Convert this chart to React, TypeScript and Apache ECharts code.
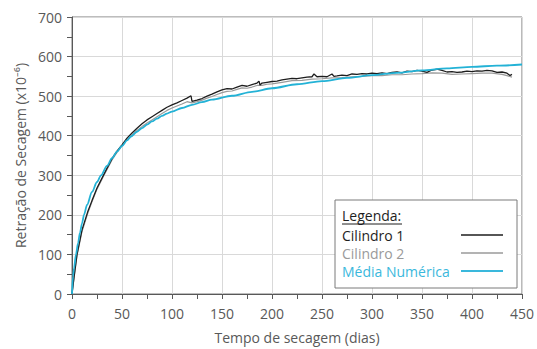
import React, { useEffect, useRef } from "react";
import * as echarts from "echarts";

const cyanDays = [0, 1, 2, 4, 6, 8, 10, 12, 15, 20, 25, 29, 35, 40, 45, 50, 55, 59, 65, 70, 75, 80, 85, 90, 95, 100, 110, 120, 130, 140, 160, 180, 200, 225, 250, 275, 300, 325, 350, 375, 400, 425, 450];
const cyanVals = [0, 45, 65, 100, 128, 155, 178, 200, 225, 258, 283, 300, 324, 343, 360, 374, 388, 398, 410, 419, 428, 436, 443, 450, 456, 461, 470, 478, 485, 491, 501, 511, 520, 530, 538, 546, 553, 559, 565, 570, 574, 577, 580];

const c1Days = [0, 2, 5, 10, 16, 20, 25, 32, 40, 45, 50, 55, 60, 65, 70, 75, 80, 85, 90, 95, 100, 105, 110, 115, 119, 120, 125, 130, 135, 140, 145, 150, 155, 160, 165, 170, 175, 180, 185, 187, 188, 190, 195, 200, 205, 210, 215, 220, 225, 230, 235, 240, 242, 245, 250, 255, 260, 262, 265, 270, 275, 280, 285, 290, 295, 300, 305, 310, 315, 320, 325, 330, 335, 340, 345, 350, 355, 360, 365, 370, 375, 380, 385, 390, 395, 400, 405, 410, 415, 420, 425, 430, 435, 438, 440];
const c1Vals = [0, 42, 100, 162, 210, 236, 268, 303, 342, 361, 377, 394, 407, 419, 430, 440, 448, 456, 464, 472, 478, 483, 489, 495, 501, 487, 490, 494, 500, 505, 511, 516, 519, 518, 523, 527, 525, 529, 533, 538, 528, 533, 535, 537, 538, 541, 543, 545, 544, 546, 548, 549, 556, 549, 550, 549, 556, 550, 551, 553, 552, 556, 555, 557, 556, 558, 557, 559, 557, 560, 561, 559, 563, 562, 565, 563, 560, 566, 568, 565, 561, 562, 560, 561, 563, 562, 564, 563, 565, 564, 560, 561, 558, 552, 555];

const c2Days = [0, 2, 5, 10, 16, 20, 25, 32, 40, 45, 50, 55, 60, 65, 70, 75, 80, 85, 90, 95, 100, 105, 110, 115, 120, 125, 130, 135, 140, 145, 150, 155, 160, 165, 170, 175, 180, 185, 190, 195, 200, 210, 220, 230, 240, 250, 260, 270, 280, 290, 300, 310, 320, 330, 340, 350, 360, 370, 380, 390, 400, 410, 420, 430, 435, 440];
const c2Vals = [0, 40, 97, 158, 206, 233, 265, 300, 339, 358, 374, 390, 402, 413, 423, 432, 440, 448, 456, 464, 470, 475, 480, 486, 483, 486, 490, 495, 499, 504, 509, 512, 513, 517, 521, 520, 523, 527, 527, 530, 531, 535, 539, 540, 543, 544, 546, 547, 549, 550, 552, 552, 554, 554, 556, 557, 559, 558, 555, 556, 557, 558, 558, 555, 552, 548];

const xTicks = [0, 50, 100, 150, 200, 250, 300, 350, 400, 450];

const zip = (d: number[], v: number[]) => d.map((x, i) => [x, v[i]]);

export default function App() {
  const ref = useRef<HTMLDivElement>(null);
  useEffect(() => {
    if (!ref.current) return;
    const chart = echarts.init(ref.current, null, { renderer: "svg" });
    const font = "Open Sans";
    const lx = 335, ly = 200;
    chart.setOption({
      animation: false,
      grid: { left: 72, right: 13, top: 17, bottom: 52, show: true, borderColor: "#7a7a7a", borderWidth: 1 },
      xAxis: {
        type: "value",
        min: 0,
        max: 450,
        interval: 50,
        name: "Tempo de secagem (dias)",
        nameLocation: "middle",
        nameGap: 36,
        nameTextStyle: { fontFamily: font, fontSize: 14, color: "#595959" },
        axisLine: { show: true, lineStyle: { color: "#595959", width: 1 } },
        axisTick: { show: true, length: 5, lineStyle: { color: "#595959" } },
        minorTick: { show: true, splitNumber: 2, length: 5, lineStyle: { color: "#595959" } },
        splitLine: { show: true, lineStyle: { color: "#d9d9d9" } },
        axisLabel: { fontFamily: font, fontSize: 14, color: "#595959", margin: 12, formatter: (v: number) => (xTicks.includes(v) ? String(v) : "") },
      },
      yAxis: {
        type: "value",
        min: 0,
        max: 700,
        interval: 100,
        name: "Retração de Secagem (x10⁻⁶)",
        nameLocation: "middle",
        nameGap: 45,
        nameTextStyle: { fontFamily: font, fontSize: 14, color: "#595959" },
        axisLine: { show: true, lineStyle: { color: "#595959", width: 1 } },
        axisTick: { show: true, length: 5, lineStyle: { color: "#595959" } },
        minorTick: { show: true, splitNumber: 2, length: 5, lineStyle: { color: "#595959" } },
        splitLine: { show: true, lineStyle: { color: "#d9d9d9" } },
        axisLabel: { fontFamily: font, fontSize: 14, color: "#595959", margin: 10 },
      },
      series: [
        { name: "Cilindro 2", type: "line", data: zip(c2Days, c2Vals), showSymbol: false, lineStyle: { color: "#9a9a9a", width: 1.2 }, z: 2 },
        { name: "Cilindro 1", type: "line", data: zip(c1Days, c1Vals), showSymbol: false, lineStyle: { color: "#1e1e1e", width: 1.3 }, z: 3 },
        { name: "Média Numérica", type: "line", data: zip(cyanDays, cyanVals), showSymbol: false, smooth: 0.3, smoothMonotone: "x", lineStyle: { color: "#23b2d6", width: 1.8 }, z: 4 },
      ],
      graphic: [
        { type: "rect", shape: { x: lx, y: ly, width: 182, height: 88 }, style: { fill: "#fff", stroke: "#7a7a7a", lineWidth: 1 }, z: 10 },
        { type: "text", x: lx + 7, y: ly + 15, style: { text: "Legenda:", font: `14px "${font}"`, fill: "#1e1e1e", verticalAlign: "middle" }, z: 11 },
        { type: "line", shape: { x1: lx + 7, y1: ly + 24, x2: lx + 67, y2: ly + 24 }, style: { stroke: "#1e1e1e", lineWidth: 1 }, z: 11 },
        { type: "text", x: lx + 7, y: ly + 35, style: { text: "Cilindro 1", font: `14px "${font}"`, fill: "#1e1e1e", verticalAlign: "middle" }, z: 11 },
        { type: "text", x: lx + 7, y: ly + 53, style: { text: "Cilindro 2", font: `14px "${font}"`, fill: "#9a9a9a", verticalAlign: "middle" }, z: 11 },
        { type: "text", x: lx + 7, y: ly + 71, style: { text: "Média Numérica", font: `14px "${font}"`, fill: "#3ab8dc", verticalAlign: "middle" }, z: 11 },
        { type: "line", shape: { x1: lx + 126, y1: ly + 35, x2: lx + 168, y2: ly + 35 }, style: { stroke: "#1e1e1e", lineWidth: 1.5 }, z: 11 },
        { type: "line", shape: { x1: lx + 126, y1: ly + 53, x2: lx + 168, y2: ly + 53 }, style: { stroke: "#9a9a9a", lineWidth: 1.3 }, z: 11 },
        { type: "line", shape: { x1: lx + 126, y1: ly + 71, x2: lx + 168, y2: ly + 71 }, style: { stroke: "#3ab8dc", lineWidth: 1.8 }, z: 11 },
      ],
    });
    return () => chart.dispose();
  }, []);
  return <div ref={ref} style={{ width: 537, height: 349, position: "absolute", left: 0, top: 0 }} />;
}
